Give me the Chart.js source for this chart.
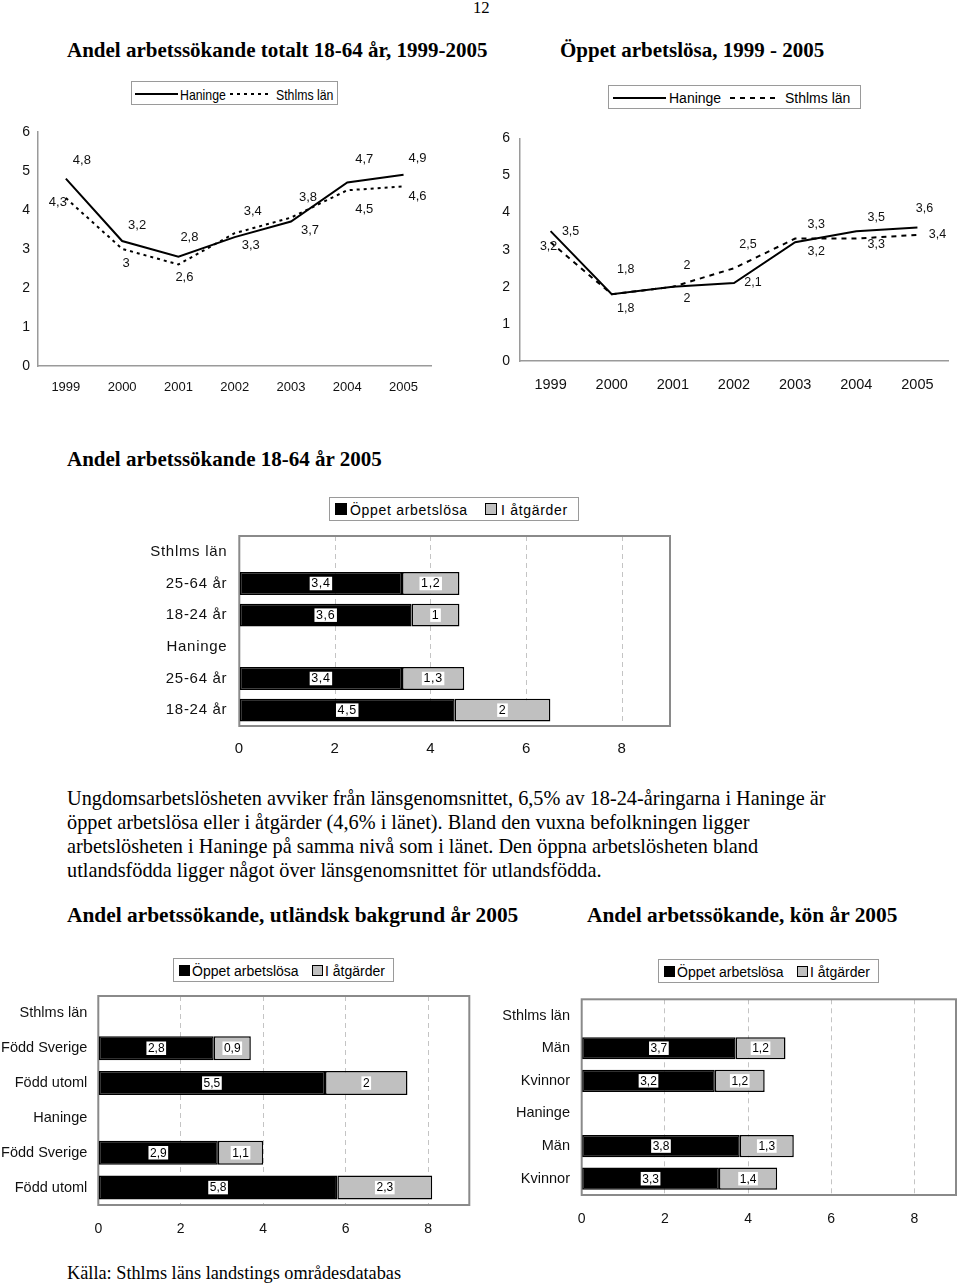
<!DOCTYPE html>
<html>
<head>
<meta charset="utf-8">
<script src="https://cdn.jsdelivr.net/npm/chart.js@4"></script>
<style>
  body { margin: 0; background: #fff; width: 960px; height: 1284px; position: relative; overflow: hidden; }
  .abs { position: absolute; }
  .serif { font-family: 'Liberation Serif', 'Times New Roman', serif; white-space: nowrap; line-height: 1; color: #000; }
  .title { font-weight: bold; font-size: 21px; }
  .para { font-size: 20.3px; line-height: 24px; }
  .lg { position: absolute; border: 1px solid #9a9a9a; box-sizing: border-box; background: #fff; }
  .lg span { position: absolute; white-space: nowrap; line-height: 1; color: #000; }
  .lg svg { position: absolute; }
  .narrow { transform: scaleX(0.82); transform-origin: 0 0; }
  .sq { position: absolute; box-sizing: border-box; border: 1px solid #000; }
  canvas { position: absolute; }
</style>
</head>
<body>

<div class="abs serif" style="left:473px; top:0px; font-size:16.7px;">12</div>

<div class="abs serif title" style="left:67px; top:39.5px;">Andel arbetssökande totalt 18-64 år, 1999-2005</div>
<div class="abs serif title" style="left:560px; top:39.5px;">Öppet arbetslösa, 1999 - 2005</div>

<!-- legend top-left -->
<div class="lg" style="left:131px; top:81px; width:207px; height:24px;">
  <svg style="left:3px; top:6px;" width="44" height="12"><line x1="0" y1="6" x2="43" y2="6" stroke="#000" stroke-width="2"/></svg>
  <span class="narrow" style="left:48px; top:4px; font:15px 'Liberation Sans',Arial,sans-serif;">Haninge</span>
  <svg style="left:98px; top:6px;" width="40" height="12"><line x1="0" y1="6" x2="38" y2="6" stroke="#000" stroke-width="2" stroke-dasharray="3,4"/></svg>
  <span class="narrow" style="left:144px; top:4px; font:15px 'Liberation Sans',Arial,sans-serif;">Sthlms län</span>
</div>

<!-- legend top-right -->
<div class="lg" style="left:608px; top:85px; width:253px; height:24px;">
  <svg style="left:4px; top:6px;" width="54" height="12"><line x1="0" y1="6" x2="53" y2="6" stroke="#000" stroke-width="2"/></svg>
  <span style="left:60px; top:4px; font:14px 'Liberation Sans',Arial,sans-serif;">Haninge</span>
  <svg style="left:121px; top:6px;" width="48" height="12"><line x1="0" y1="6" x2="46" y2="6" stroke="#000" stroke-width="2" stroke-dasharray="5,5"/></svg>
  <span style="left:176px; top:4px; font:14px 'Liberation Sans',Arial,sans-serif;">Sthlms län</span>
</div>

<canvas id="c1" width="440" height="290" style="left:0px; top:115px;"></canvas>
<canvas id="c2" width="480" height="285" style="left:480px; top:120px;"></canvas>

<div class="abs serif title" style="left:67px; top:449px;">Andel arbetssökande 18-64 år 2005</div>

<!-- legend middle -->
<div class="lg" style="left:329px; top:497px; width:250px; height:24px;">
  <div class="sq" style="left:5px; top:5px; width:12px; height:12px; background:#000;"></div>
  <span style="left:20px; top:4px; font:14px 'Liberation Sans',Arial,sans-serif; letter-spacing:0.7px;">Öppet arbetslösa</span>
  <div class="sq" style="left:155px; top:5px; width:12px; height:12px; background:#c0c0c0;"></div>
  <span style="left:171px; top:4px; font:14px 'Liberation Sans',Arial,sans-serif; letter-spacing:0.7px;">I åtgärder</span>
</div>

<canvas id="c3" width="550" height="240" style="left:130px; top:525px;"></canvas>

<div class="abs serif para" style="left:67px; top:785.6px;">Ungdomsarbetslösheten avviker från länsgenomsnittet, 6,5% av 18-24-åringarna i Haninge är<br>öppet arbetslösa eller i åtgärder (4,6% i länet). Bland den vuxna befolkningen ligger<br>arbetslösheten i Haninge på samma nivå som i länet. Den öppna arbetslösheten bland<br>utlandsfödda ligger något över länsgenomsnittet för utlandsfödda.</div>

<div class="abs serif title" style="left:67px; top:905.4px; font-size:21.4px;">Andel arbetssökande, utländsk bakgrund år 2005</div>
<div class="abs serif title" style="left:587px; top:905.4px; font-size:21.4px;">Andel arbetssökande, kön år 2005</div>

<!-- legend bottom-left -->
<div class="lg" style="left:173px; top:958px; width:221px; height:24px;">
  <div class="sq" style="left:5px; top:6px; width:11px; height:11px; background:#000;"></div>
  <span style="left:18px; top:4px; font:14px 'Liberation Sans',Arial,sans-serif;">Öppet arbetslösa</span>
  <div class="sq" style="left:138px; top:6px; width:11px; height:11px; background:#c0c0c0;"></div>
  <span style="left:151px; top:4px; font:14px 'Liberation Sans',Arial,sans-serif;">I åtgärder</span>
</div>

<!-- legend bottom-right -->
<div class="lg" style="left:658px; top:959px; width:221px; height:24px;">
  <div class="sq" style="left:5px; top:6px; width:11px; height:11px; background:#000;"></div>
  <span style="left:18px; top:4px; font:14px 'Liberation Sans',Arial,sans-serif;">Öppet arbetslösa</span>
  <div class="sq" style="left:138px; top:6px; width:11px; height:11px; background:#c0c0c0;"></div>
  <span style="left:151px; top:4px; font:14px 'Liberation Sans',Arial,sans-serif;">I åtgärder</span>
</div>

<canvas id="c4" width="480" height="250" style="left:0px; top:990px;"></canvas>
<canvas id="c5" width="470" height="240" style="left:490px; top:990px;"></canvas>

<div class="abs serif" style="left:67px; top:1263.7px; font-size:18.3px;">Källa: Sthlms läns landstings områdesdatabas</div>

<script>
// ---- data ----
const years = ['1999', '2000', '2001', '2002', '2003', '2004', '2005'];
const totHaninge = [4.8, 3.2, 2.8, 3.3, 3.7, 4.7, 4.9];
const totSthlm = [4.3, 3.0, 2.6, 3.4, 3.8, 4.5, 4.6];
const oppHaninge = [3.5, 1.8, 2.0, 2.1, 3.2, 3.5, 3.6];
const oppSthlm = [3.2, 1.8, 2.0, 2.5, 3.3, 3.3, 3.4];
const lineMax = 6;

const ageCats = ['Sthlms län', '25-64 år', '18-24 år', 'Haninge', '25-64 år', '18-24 år'];
const ageOppet = [null, 3.4, 3.6, null, 3.4, 4.5];
const ageAtgard = [null, 1.2, 1.0, null, 1.3, 2.0];

const bgCats = ['Sthlms län', 'Född Sverige', 'Född utoml', 'Haninge', 'Född Sverige', 'Född utoml'];
const bgOppet = [null, 2.8, 5.5, null, 2.9, 5.8];
const bgAtgard = [null, 0.9, 2.0, null, 1.1, 2.3];

const sexCats = ['Sthlms län', 'Män', 'Kvinnor', 'Haninge', 'Män', 'Kvinnor'];
const sexOppet = [null, 3.7, 3.2, null, 3.8, 3.3];
const sexAtgard = [null, 1.2, 1.2, null, 1.3, 1.4];

const barTicks = [0, 2, 4, 6, 8];
const barMax = 9;

// label placement (px offsets from each point), same order as the series
const totOffH = [[16, -18], [15, -16], [11, -19], [16, 8], [19, 9], [17, -23], [14, -16]];
const totOffS = [[-8, 4], [4, 15], [6, 13], [18, -22], [17, -20], [17, 19], [14, 10]];
const oppOffH = [[20, 0], [14, 14], [14, 12], [19, -1], [21, 9], [20, -14], [7, -19]];
const oppOffS = [[-2, 4], [14, -25], [14, -21], [14, -24], [21, -14], [20, 6], [20, 0]];

const SANS = "'Liberation Sans', Arial, sans-serif";

const fmt = v => String(v).replace('.', ',');

Chart.defaults.animation = false;
Chart.defaults.responsive = false;
Chart.defaults.plugins.legend.display = false;
Chart.defaults.plugins.tooltip.enabled = false;

const lineLabels = {
  id: 'lineLabels',
  afterDatasetsDraw(chart, args, opts) {
    const ctx = chart.ctx;
    ctx.save();
    ctx.font = opts.font;
    ctx.fillStyle = '#111';
    ctx.textAlign = 'center';
    ctx.textBaseline = 'middle';
    chart.data.datasets.forEach((ds, i) => {
      chart.getDatasetMeta(i).data.forEach((pt, j) => {
        const off = opts.offsets[i][j];
        ctx.fillText(fmt(ds.data[j]), pt.x + off[0], pt.y + off[1]);
      });
    });
    ctx.restore();
  }
};

const barLabels = {
  id: 'barLabels',
  afterDatasetsDraw(chart, args, opts) {
    const ctx = chart.ctx;
    ctx.save();
    ctx.font = opts.font;
    ctx.textAlign = 'center';
    ctx.textBaseline = 'middle';
    chart.data.datasets.forEach((ds, i) => {
      chart.getDatasetMeta(i).data.forEach((bar, j) => {
        const v = ds.data[j];
        if (v == null) return;
        const x = (bar.x + bar.base) / 2;
        const y = bar.y;
        const txt = fmt(v);
        const w = ctx.measureText(txt).width + opts.padX * 2;
        ctx.fillStyle = '#fff';
        ctx.fillRect(x - w / 2, y - opts.boxH / 2, w, opts.boxH);
        ctx.fillStyle = '#000';
        ctx.fillText(txt, x, y + 0.5);
      });
    });
    ctx.restore();
  }
};

const frame = {
  id: 'frame',
  beforeDatasetsDraw(chart) {
    const { ctx, chartArea: a } = chart;
    ctx.save();
    ctx.strokeStyle = '#8a8a8a';
    ctx.lineWidth = 2;
    ctx.strokeRect(a.left, a.top, a.right - a.left, a.bottom - a.top);
    ctx.restore();
  }
};

const spacing = {
  id: 'spacing',
  beforeDraw(chart, args, opts) {
    chart.ctx.letterSpacing = opts.px || '0px';
  }
};

function lineChart(id, h, s, offH, offS, g) {
  return new Chart(document.getElementById(id), {
    type: 'line',
    data: {
      labels: years,
      datasets: [
        { label: 'Haninge', data: h, borderColor: '#000', borderWidth: 2, pointRadius: 0, tension: 0 },
        { label: 'Sthlms län', data: s, borderColor: '#000', borderWidth: 2, borderDash: g.dash, pointRadius: 0, tension: 0 }
      ]
    },
    options: {
      layout: { padding: { top: g.padTop, right: g.padRight, left: 0, bottom: 0 } },
      scales: {
        x: {
          offset: true,
          grid: { display: false, drawTicks: false, tickLength: 0 },
          border: { display: true, color: '#9a9a9a', width: 1.5 },
          ticks: { color: '#111', font: { family: SANS, size: g.xSize }, padding: g.xPad, maxRotation: 0 },
          afterFit: sc => { sc.height = g.xH; }
        },
        y: {
          min: 0, max: lineMax,
          grid: { display: false, drawTicks: false, tickLength: 0 },
          border: { display: true, color: '#9a9a9a', width: 1.5 },
          ticks: { stepSize: 1, color: '#111', font: { family: SANS, size: g.ySize }, padding: g.yPad },
          afterFit: sc => { sc.width = g.yW; }
        }
      },
      plugins: { lineLabels: { font: g.labelFont, offsets: [offH, offS] } }
    },
    plugins: [lineLabels]
  });
}

function barChart(id, cats, a, b, g) {
  return new Chart(document.getElementById(id), {
    type: 'bar',
    data: {
      labels: cats,
      datasets: [
        { label: 'Öppet arbetslösa', data: a, backgroundColor: '#000', borderColor: '#000', borderWidth: 1.5, borderSkipped: false, barPercentage: g.barPct, categoryPercentage: 1 },
        { label: 'I åtgärder', data: b, backgroundColor: '#c0c0c0', borderColor: '#000', borderWidth: 1.5, borderSkipped: false, barPercentage: g.barPct, categoryPercentage: 1 }
      ]
    },
    options: {
      indexAxis: 'y',
      layout: { padding: { top: g.padTop, right: g.padRight, left: 0, bottom: 0 } },
      scales: {
        x: {
          stacked: true, min: 0, max: barMax,
          afterBuildTicks: sc => { sc.ticks = barTicks.map(v => ({ value: v })); },
          grid: { display: true, color: '#c4c4c4', lineWidth: 1, drawTicks: false, tickLength: 0 },
          border: { display: false, dash: [5, 4] },
          ticks: { color: '#111', font: { family: SANS, size: g.xSize }, padding: g.xPad, maxRotation: 0 },
          afterFit: sc => { sc.height = g.xH; sc.paddingLeft = 0; sc.paddingRight = 0; }
        },
        y: {
          stacked: true,
          grid: { display: false, drawTicks: false, tickLength: 0 },
          border: { display: false },
          ticks: { color: '#111', font: { family: SANS, size: g.ySize }, padding: g.yPad, autoSkip: false },
          afterFit: sc => { sc.width = g.yW; sc.paddingTop = 0; sc.paddingBottom = 0; }
        }
      },
      plugins: {
        barLabels: { font: g.labelFont, padX: 1.5, boxH: 13.5 },
        spacing: { px: g.spacing }
      }
    },
    plugins: [spacing, frame, barLabels]
  });
}

lineChart('c1', totHaninge, totSthlm, totOffH, totOffS, {
  dash: [3, 4], padTop: 16.7, padRight: 8.3, xH: 39, yW: 37.7,
  xSize: 13, ySize: 14, xPad: 14, yPad: 7.7, labelFont: "13px " + SANS
});

lineChart('c2', oppHaninge, oppSthlm, oppOffH, oppOffS, {
  dash: [5, 5], padTop: 17.3, padRight: 12, xH: 44, yW: 40,
  xSize: 14.5, ySize: 14, xPad: 15.3, yPad: 10, labelFont: "12.5px " + SANS
});

barChart('c3', ageCats, ageOppet, ageAtgard, {
  padTop: 11, padRight: 10, xH: 39, yW: 109.3, barPct: 0.72,
  xSize: 15, ySize: 15, xPad: 14, yPad: 12, spacing: '0.7px', labelFont: "12.5px " + SANS
});

barChart('c4', bgCats, bgOppet, bgAtgard, {
  padTop: 6, padRight: 10.7, xH: 35, yW: 98.3, barPct: 0.69,
  xSize: 14, ySize: 14.5, xPad: 15.5, yPad: 11, spacing: '0px', labelFont: "12px " + SANS
});

barChart('c5', sexCats, sexOppet, sexAtgard, {
  padTop: 9.3, padRight: 4, xH: 35, yW: 91.7, barPct: 0.68,
  xSize: 14, ySize: 14.5, xPad: 15.5, yPad: 11.7, spacing: '0px', labelFont: "12px " + SANS
});
</script>
</body>
</html>
